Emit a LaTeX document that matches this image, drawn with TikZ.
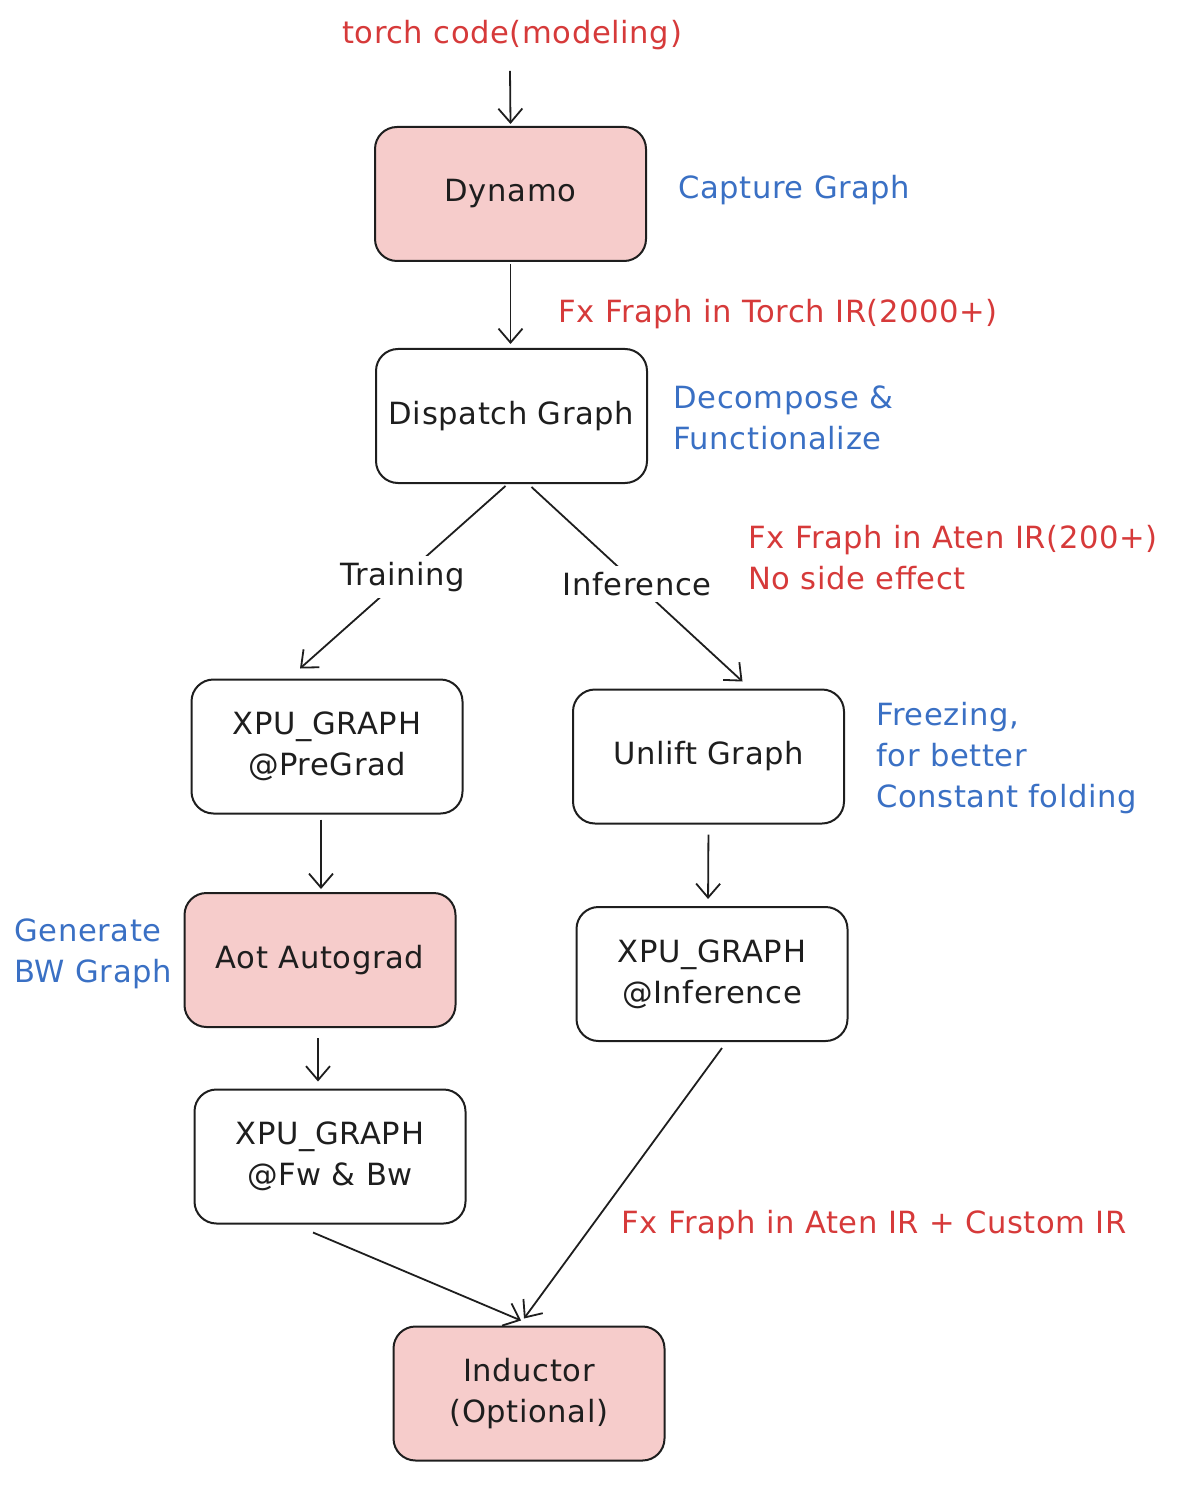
\documentclass[tikz,border=0pt]{standalone}
\usepackage{fontspec}
\setmainfont[LetterSpace=2]{DejaVu Sans}
\usetikzlibrary{arrows.meta}
\definecolor{redtxt}{HTML}{D63A3A}
\definecolor{bluetxt}{HTML}{3A70C4}
\definecolor{pinkfill}{HTML}{F6CCCB}
\definecolor{ink}{HTML}{1E1E1E}
\begin{document}
\begin{tikzpicture}[x=0.5pt,y=-0.5pt,
  font=\fontsize{15.3}{20.5}\selectfont,
  box/.style={draw=ink, line width=1pt, rounded corners=11pt, minimum width=135.5pt, minimum height=67pt, align=center, text=ink},
  pinkbox/.style={box, fill=pinkfill},
  arr/.style={draw=ink, line width=0.9pt, -{Straight Barb[length=7pt,width=12pt]}},
  lbl/.style={align=left, anchor=west, inner sep=0pt},
  redlbl/.style={lbl, text=redtxt},
  bluelbl/.style={lbl, text=bluetxt},
  cut/.style={fill=white, text=ink, inner sep=3pt}
]
\useasboundingbox (0,0) rectangle (1184,1486);

% nodes
\node[text=redtxt] (src) at (512,35) {torch code(modeling)};
\node[pinkbox] (dyn) at (510.5,194) {Dynamo};
\node[box] (disp) at (511.5,416) {Dispatch Graph};
\node[box] (pre) at (327,746.5) {XPU\_GRAPH\\@PreGrad};
\node[box] (unlift) at (708.5,756.5) {Unlift Graph};
\node[pinkbox] (aot) at (320,960) {Aot Autograd};
\node[box] (inf) at (712,974) {XPU\_GRAPH\\@Inference};
\node[box] (fw) at (330,1156.5) {XPU\_GRAPH\\@Fw \& Bw};
\node[pinkbox] (ind) at (529,1393.5) {Inductor\\(Optional)};

% side labels
\node[bluelbl] (l1) at (678,190) {Capture Graph};
\node[redlbl] (l2) at (558,314) {Fx Fraph in Torch IR(2000+)};
\node[bluelbl] (l3) at (673,418) {Decompose \&\\Functionalize};
\node[redlbl] (l4) at (748,558) {Fx Fraph in Aten IR(200+)\\No side effect};
\node[bluelbl] (l5) at (876,758) {Freezing,\\for better\\Constant folding};
\node[bluelbl] (l6) at (14,954) {Generate\\BW Graph};
\node[redlbl] (l7) at (621,1225) {Fx Fraph in Aten IR + Custom IR};

% connectors
\draw[arr] ([xshift=-1pt,yshift=-7pt]src.south) -- ([yshift=1pt]dyn.north);
\draw[arr, shorten <=1pt, shorten >=2pt] (dyn.south) -- ([xshift=-0.5pt]disp.north);
\draw[arr] ([xshift=-3pt,yshift=-1pt]disp.south) -- node[cut]{Training} ([xshift=-13.5pt,yshift=5pt]pre.north);
\draw[arr] ([xshift=10pt,yshift=-1.5pt]disp.south) -- node[cut]{Inference} ([xshift=17pt,yshift=3.5pt]unlift.north);
\draw[arr, shorten <=2.5pt, shorten >=1.5pt] ([xshift=-3pt]pre.south) -- ([xshift=0.5pt]aot.north);
\draw[arr, shorten <=5pt, shorten >=3.5pt] (unlift.south) -- ([xshift=-2pt]inf.north);
\draw[arr, shorten <=5pt, shorten >=3.5pt] ([xshift=-1pt]aot.south) -- ([xshift=-6pt]fw.north);
\draw[arr] ([xshift=-8.5pt,yshift=-4pt]fw.south) -- ([xshift=-4pt,yshift=2.5pt]ind.north);
\draw[arr] ([xshift=5pt,yshift=-3pt]inf.south) -- ([xshift=-2.5pt,yshift=3.5pt]ind.north);
\end{tikzpicture}
\end{document}
